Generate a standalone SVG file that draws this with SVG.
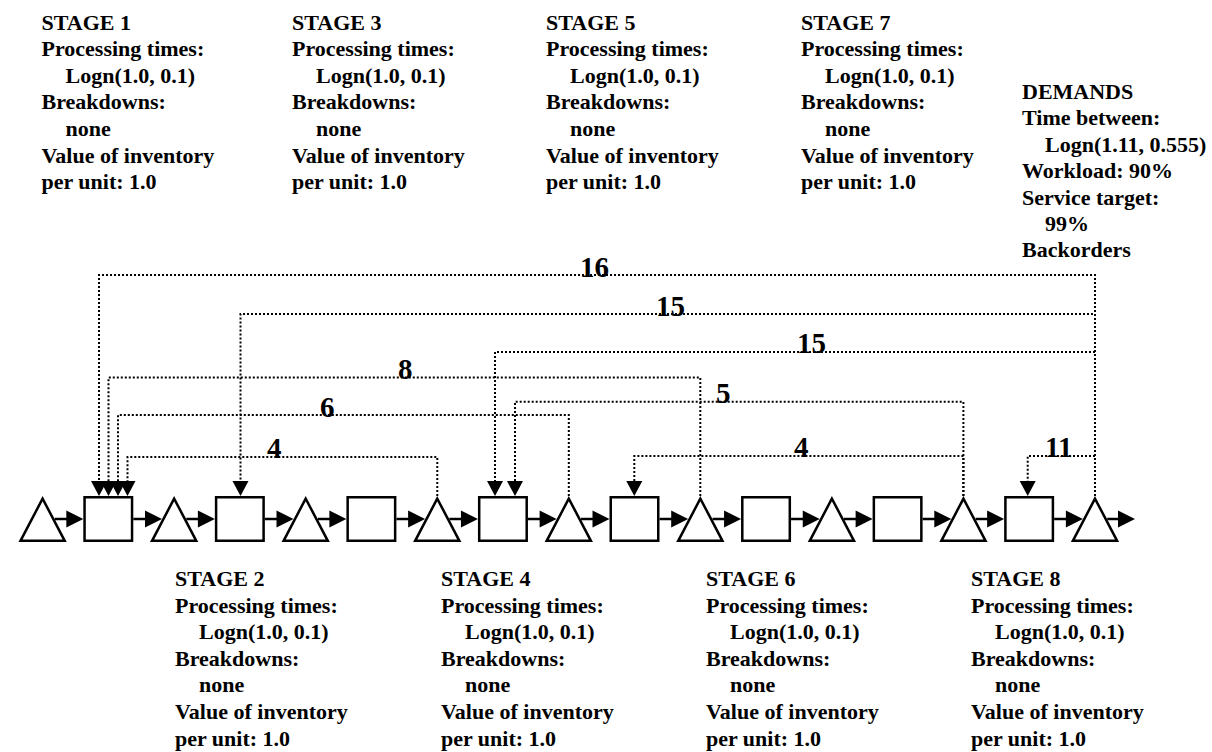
<svg xmlns="http://www.w3.org/2000/svg" width="1212" height="752" viewBox="0 0 1212 752">
<defs>
<style>
.t{font-family:"Liberation Serif","Times New Roman",serif;font-weight:bold;font-size:22px;fill:#000}
.lbl{font-family:"Liberation Serif","Times New Roman",serif;font-weight:bold;font-size:29px;fill:#000}
.shape{fill:#fff;stroke:#000;stroke-width:2.5;stroke-linejoin:miter}
.flow{stroke:#000;stroke-width:2.5;fill:none}
.dot{stroke:#000;stroke-width:2;stroke-dasharray:2 2;fill:none}
.head{fill:#000;stroke:none}
</style>
<polygon id="tri" points="24.3,498.6 2.2,540.8 46.4,540.8"/>
<rect id="sq" x="1.25" y="497.25" width="47.5" height="43.5"/>
<polygon id="ah" points="-17,-8.5 0,0 -17,8.5"/>
<polygon id="dh" points="-8,-15 8,-15 0,0"/>
</defs>
<rect width="1212" height="752" fill="#fff"/>

<g id="stage1-text" class="t">
<text x="41.5" y="29.5">STAGE 1</text>
<text x="41.5" y="56.1">Processing times:</text>
<text x="65.5" y="82.7">Logn(1.0, 0.1)</text>
<text x="41.5" y="109.3">Breakdowns:</text>
<text x="65.5" y="135.9">none</text>
<text x="41.5" y="162.5">Value of inventory</text>
<text x="41.5" y="189.1">per unit: 1.0</text>
</g>
<g id="stage3-text" class="t">
<text x="292" y="29.5">STAGE 3</text>
<text x="292" y="56.1">Processing times:</text>
<text x="316" y="82.7">Logn(1.0, 0.1)</text>
<text x="292" y="109.3">Breakdowns:</text>
<text x="316" y="135.9">none</text>
<text x="292" y="162.5">Value of inventory</text>
<text x="292" y="189.1">per unit: 1.0</text>
</g>
<g id="stage5-text" class="t">
<text x="546" y="29.5">STAGE 5</text>
<text x="546" y="56.1">Processing times:</text>
<text x="570" y="82.7">Logn(1.0, 0.1)</text>
<text x="546" y="109.3">Breakdowns:</text>
<text x="570" y="135.9">none</text>
<text x="546" y="162.5">Value of inventory</text>
<text x="546" y="189.1">per unit: 1.0</text>
</g>
<g id="stage7-text" class="t">
<text x="801" y="29.5">STAGE 7</text>
<text x="801" y="56.1">Processing times:</text>
<text x="825" y="82.7">Logn(1.0, 0.1)</text>
<text x="801" y="109.3">Breakdowns:</text>
<text x="825" y="135.9">none</text>
<text x="801" y="162.5">Value of inventory</text>
<text x="801" y="189.1">per unit: 1.0</text>
</g>
<g id="demands-text" class="t">
<text x="1022" y="99">DEMANDS</text>
<text x="1022" y="125.4">Time between:</text>
<text x="1045" y="151.8">Logn(1.11, 0.555)</text>
<text x="1022" y="178.2">Workload: 90%</text>
<text x="1022" y="204.6">Service target:</text>
<text x="1045" y="231">99%</text>
<text x="1022" y="257.4">Backorders</text>
</g>
<g id="stage2-text" class="t">
<text x="175" y="586">STAGE 2</text>
<text x="175" y="612.6">Processing times:</text>
<text x="199" y="639.2">Logn(1.0, 0.1)</text>
<text x="175" y="665.8">Breakdowns:</text>
<text x="199" y="692.4">none</text>
<text x="175" y="719">Value of inventory</text>
<text x="175" y="745.6">per unit: 1.0</text>
</g>
<g id="stage4-text" class="t">
<text x="441" y="586">STAGE 4</text>
<text x="441" y="612.6">Processing times:</text>
<text x="465" y="639.2">Logn(1.0, 0.1)</text>
<text x="441" y="665.8">Breakdowns:</text>
<text x="465" y="692.4">none</text>
<text x="441" y="719">Value of inventory</text>
<text x="441" y="745.6">per unit: 1.0</text>
</g>
<g id="stage6-text" class="t">
<text x="706" y="586">STAGE 6</text>
<text x="706" y="612.6">Processing times:</text>
<text x="730" y="639.2">Logn(1.0, 0.1)</text>
<text x="706" y="665.8">Breakdowns:</text>
<text x="730" y="692.4">none</text>
<text x="706" y="719">Value of inventory</text>
<text x="706" y="745.6">per unit: 1.0</text>
</g>
<g id="stage8-text" class="t">
<text x="971" y="586">STAGE 8</text>
<text x="971" y="612.6">Processing times:</text>
<text x="995" y="639.2">Logn(1.0, 0.1)</text>
<text x="971" y="665.8">Breakdowns:</text>
<text x="995" y="692.4">none</text>
<text x="971" y="719">Value of inventory</text>
<text x="971" y="745.6">per unit: 1.0</text>
</g>

<g id="connectors">
<g id="flow-arrows">
<line class="flow" x1="54.7" y1="519" x2="70" y2="519"/><use href="#ah" class="head" x="83.3" y="519"/>
<line class="flow" x1="133.3" y1="519" x2="148" y2="519"/><use href="#ah" class="head" x="162" y="519"/>
<line class="flow" x1="186.3" y1="519" x2="202" y2="519"/><use href="#ah" class="head" x="214.85" y="519"/>
<line class="flow" x1="264.85" y1="519" x2="280" y2="519"/><use href="#ah" class="head" x="293.5" y="519"/>
<line class="flow" x1="317.9" y1="519" x2="333" y2="519"/><use href="#ah" class="head" x="346.4" y="519"/>
<line class="flow" x1="396.4" y1="519" x2="412" y2="519"/><use href="#ah" class="head" x="425.1" y="519"/>
<line class="flow" x1="449.4" y1="519" x2="465" y2="519"/><use href="#ah" class="head" x="477.95" y="519"/>
<line class="flow" x1="527.95" y1="519" x2="543" y2="519"/><use href="#ah" class="head" x="556.65" y="519"/>
<line class="flow" x1="581" y1="519" x2="596" y2="519"/><use href="#ah" class="head" x="609.5" y="519"/>
<line class="flow" x1="659.5" y1="519" x2="675" y2="519"/><use href="#ah" class="head" x="688.2" y="519"/>
<line class="flow" x1="712.5" y1="519" x2="728" y2="519"/><use href="#ah" class="head" x="741.05" y="519"/>
<line class="flow" x1="791.05" y1="519" x2="806" y2="519"/><use href="#ah" class="head" x="819.75" y="519"/>
<line class="flow" x1="844" y1="519" x2="859" y2="519"/><use href="#ah" class="head" x="872.6" y="519"/>
<line class="flow" x1="922.6" y1="519" x2="938" y2="519"/><use href="#ah" class="head" x="951.3" y="519"/>
<line class="flow" x1="975.6" y1="519" x2="991" y2="519"/><use href="#ah" class="head" x="1004.15" y="519"/>
<line class="flow" x1="1054.15" y1="519" x2="1070" y2="519"/><use href="#ah" class="head" x="1082.85" y="519"/>
<line class="flow" x1="1107.2" y1="519" x2="1122" y2="519"/><use href="#ah" class="head" x="1135" y="519"/>
</g>
<g id="link-16">
<polyline class="dot" points="1095,496 1095,275 99,275 99,481"/><use href="#dh" class="head" x="99" y="496"/>
<text class="lbl" x="580" y="277">16</text>
</g>
<g id="link-15a">
<polyline class="dot" points="1095,496 1095,314 240.5,314 240.5,481"/><use href="#dh" class="head" x="240.5" y="496"/>
<text class="lbl" x="656" y="316">15</text>
</g>
<g id="link-15b">
<polyline class="dot" points="1095,496 1095,352 495,352 495,481"/><use href="#dh" class="head" x="495" y="496"/>
<text class="lbl" x="797" y="353">15</text>
</g>
<g id="link-8">
<polyline class="dot" points="700.3,496 700.3,377.5 108.5,377.5 108.5,481"/><use href="#dh" class="head" x="108.5" y="496"/>
<text class="lbl" x="398" y="379">8</text>
</g>
<g id="link-5">
<polyline class="dot" points="963.4,496 963.4,401.7 515,401.7 515,481"/><use href="#dh" class="head" x="515" y="496"/>
<text class="lbl" x="716" y="403">5</text>
</g>
<g id="link-6">
<polyline class="dot" points="568.8,496 568.8,415 118,415 118,481"/><use href="#dh" class="head" x="118" y="496"/>
<text class="lbl" x="320" y="417">6</text>
</g>
<g id="link-4a">
<polyline class="dot" points="437.3,496 437.3,457 127.5,457 127.5,481"/><use href="#dh" class="head" x="127.5" y="496"/>
<text class="lbl" x="267" y="458">4</text>
</g>
<g id="link-4b">
<polyline class="dot" points="963.4,496 963.4,456 634.3,456 634.3,481"/><use href="#dh" class="head" x="634.3" y="496"/>
<text class="lbl" x="794" y="457">4</text>
</g>
<g id="link-11">
<polyline class="dot" points="1095,496 1095,456 1027.7,456 1027.7,481"/><use href="#dh" class="head" x="1027.7" y="496"/>
<text class="lbl" x="1045" y="457">11</text>
</g>
</g>

<g id="inv1"><use href="#tri" class="shape" x="18.3"/></g>
<g id="stage1"><use href="#sq" class="shape" x="83.3"/></g>
<g id="inv2"><use href="#tri" class="shape" x="149.85"/></g>
<g id="stage2"><use href="#sq" class="shape" x="214.85"/></g>
<g id="inv3"><use href="#tri" class="shape" x="281.4"/></g>
<g id="stage3"><use href="#sq" class="shape" x="346.4"/></g>
<g id="inv4"><use href="#tri" class="shape" x="412.95"/></g>
<g id="stage4"><use href="#sq" class="shape" x="477.95"/></g>
<g id="inv5"><use href="#tri" class="shape" x="544.5"/></g>
<g id="stage5"><use href="#sq" class="shape" x="609.5"/></g>
<g id="inv6"><use href="#tri" class="shape" x="676.05"/></g>
<g id="stage6"><use href="#sq" class="shape" x="741.05"/></g>
<g id="inv7"><use href="#tri" class="shape" x="807.6"/></g>
<g id="stage7"><use href="#sq" class="shape" x="872.6"/></g>
<g id="inv8"><use href="#tri" class="shape" x="939.15"/></g>
<g id="stage8"><use href="#sq" class="shape" x="1004.15"/></g>
<g id="inv9"><use href="#tri" class="shape" x="1070.7"/></g>
</svg>
